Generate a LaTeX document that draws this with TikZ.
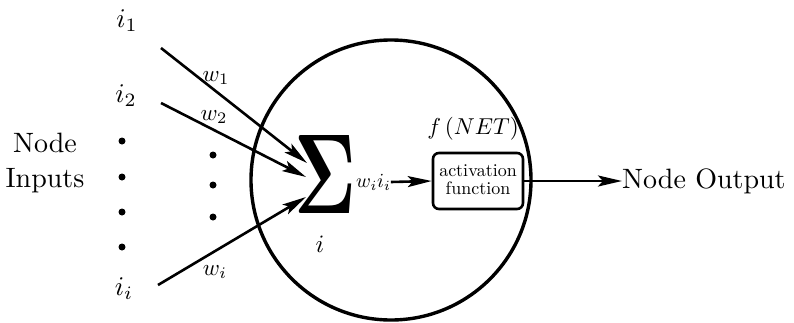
\documentclass[tikz,border=0pt]{standalone}
\usepackage{graphicx}
\usetikzlibrary{arrows.meta}
\newcommand\sz[2]{\scalebox{#1}{#2}}
\begin{document}
\begin{tikzpicture}[x=1pt,y=-1pt,
  conn/.style={line width=2.6pt,-{Stealth[length=24pt,width=11pt,inset=5pt]}},
  lab/.style={inner sep=0pt},
  dotm/.style={circle,fill=black,inner sep=0pt,minimum size=7pt},
  actbox/.style={draw,line width=2.6pt,rounded corners=6pt,minimum width=90pt,minimum height=56pt,align=center,inner sep=0pt}]
\useasboundingbox (0,0) rectangle (794,322);
\fill[white] (0,0) rectangle (794,322);
% neuron body
\node[draw,circle,line width=3.4pt,minimum size=280pt,inner sep=0pt] (body) at (391,180) {};
% labels
\node[lab] (inputs) at (45,163) {\sz{2.8}{\begin{tabular}{@{}c@{}}Node\\[0.5pt]Inputs\end{tabular}}};
\node[lab] (i1) at (127,21) {\sz{2.7}{$i_1$}};
\node[lab] (i2) at (126,96) {\sz{2.7}{$i_2$}};
\node[lab] (ii) at (124,289) {\sz{2.7}{$i_i$}};
\node[dotm] (d1) at (122,141) {};
\node[dotm] (d2) at (122,177) {};
\node[dotm] (d3) at (122,212) {};
\node[dotm] (d4) at (122,247) {};
\node[dotm] (m1) at (213,155) {};
\node[dotm] (m2) at (213,185) {};
\node[dotm] (m3) at (213,217) {};
% summation
\node[inner sep=0pt] (sum) at (325,174) {\resizebox{62pt}{78pt}{$\mathbf{\Sigma}$}};
\node[lab] (sumi) at (320,244) {\sz{2.5}{$i$}};
\node[lab,anchor=west] (wi) at (356,182) {\sz{2.0}{$w_i i_i$}};
% activation
\node[actbox] (act) at (478,181) {\sz{1.8}{\begin{tabular}{@{}c@{}}activation\\[-2pt]function\end{tabular}}};
\node[lab] (fnet) at (473,129) {\sz{2.3}{$f\,(NET)$}};
\node[lab,anchor=west] (out) at (622,181) {\sz{2.8}{Node Output}};
% weights
\node[lab] (w1) at (216,78) {\sz{2.3}{$w_1$}};
\node[lab] (w2) at (214,117) {\sz{2.3}{$w_2$}};
\node[lab] (wii) at (215,272) {\sz{2.3}{$w_i$}};
% connectors
\coordinate (s1) at (161,48);
\coordinate (s2) at (161,103);
\coordinate (s3) at (158,285);
\coordinate (e1) at (307,163);
\coordinate (e2) at (306,177);
\coordinate (e3) at (306,197);
\draw[conn] (s1) -- (e1);
\draw[conn] (s2) -- (e2);
\draw[conn] (s3) -- (e3);
\draw[conn] (wi.east) -- (act.west);
\draw[conn] (act.east) -- (out.west);
\end{tikzpicture}
\end{document}
